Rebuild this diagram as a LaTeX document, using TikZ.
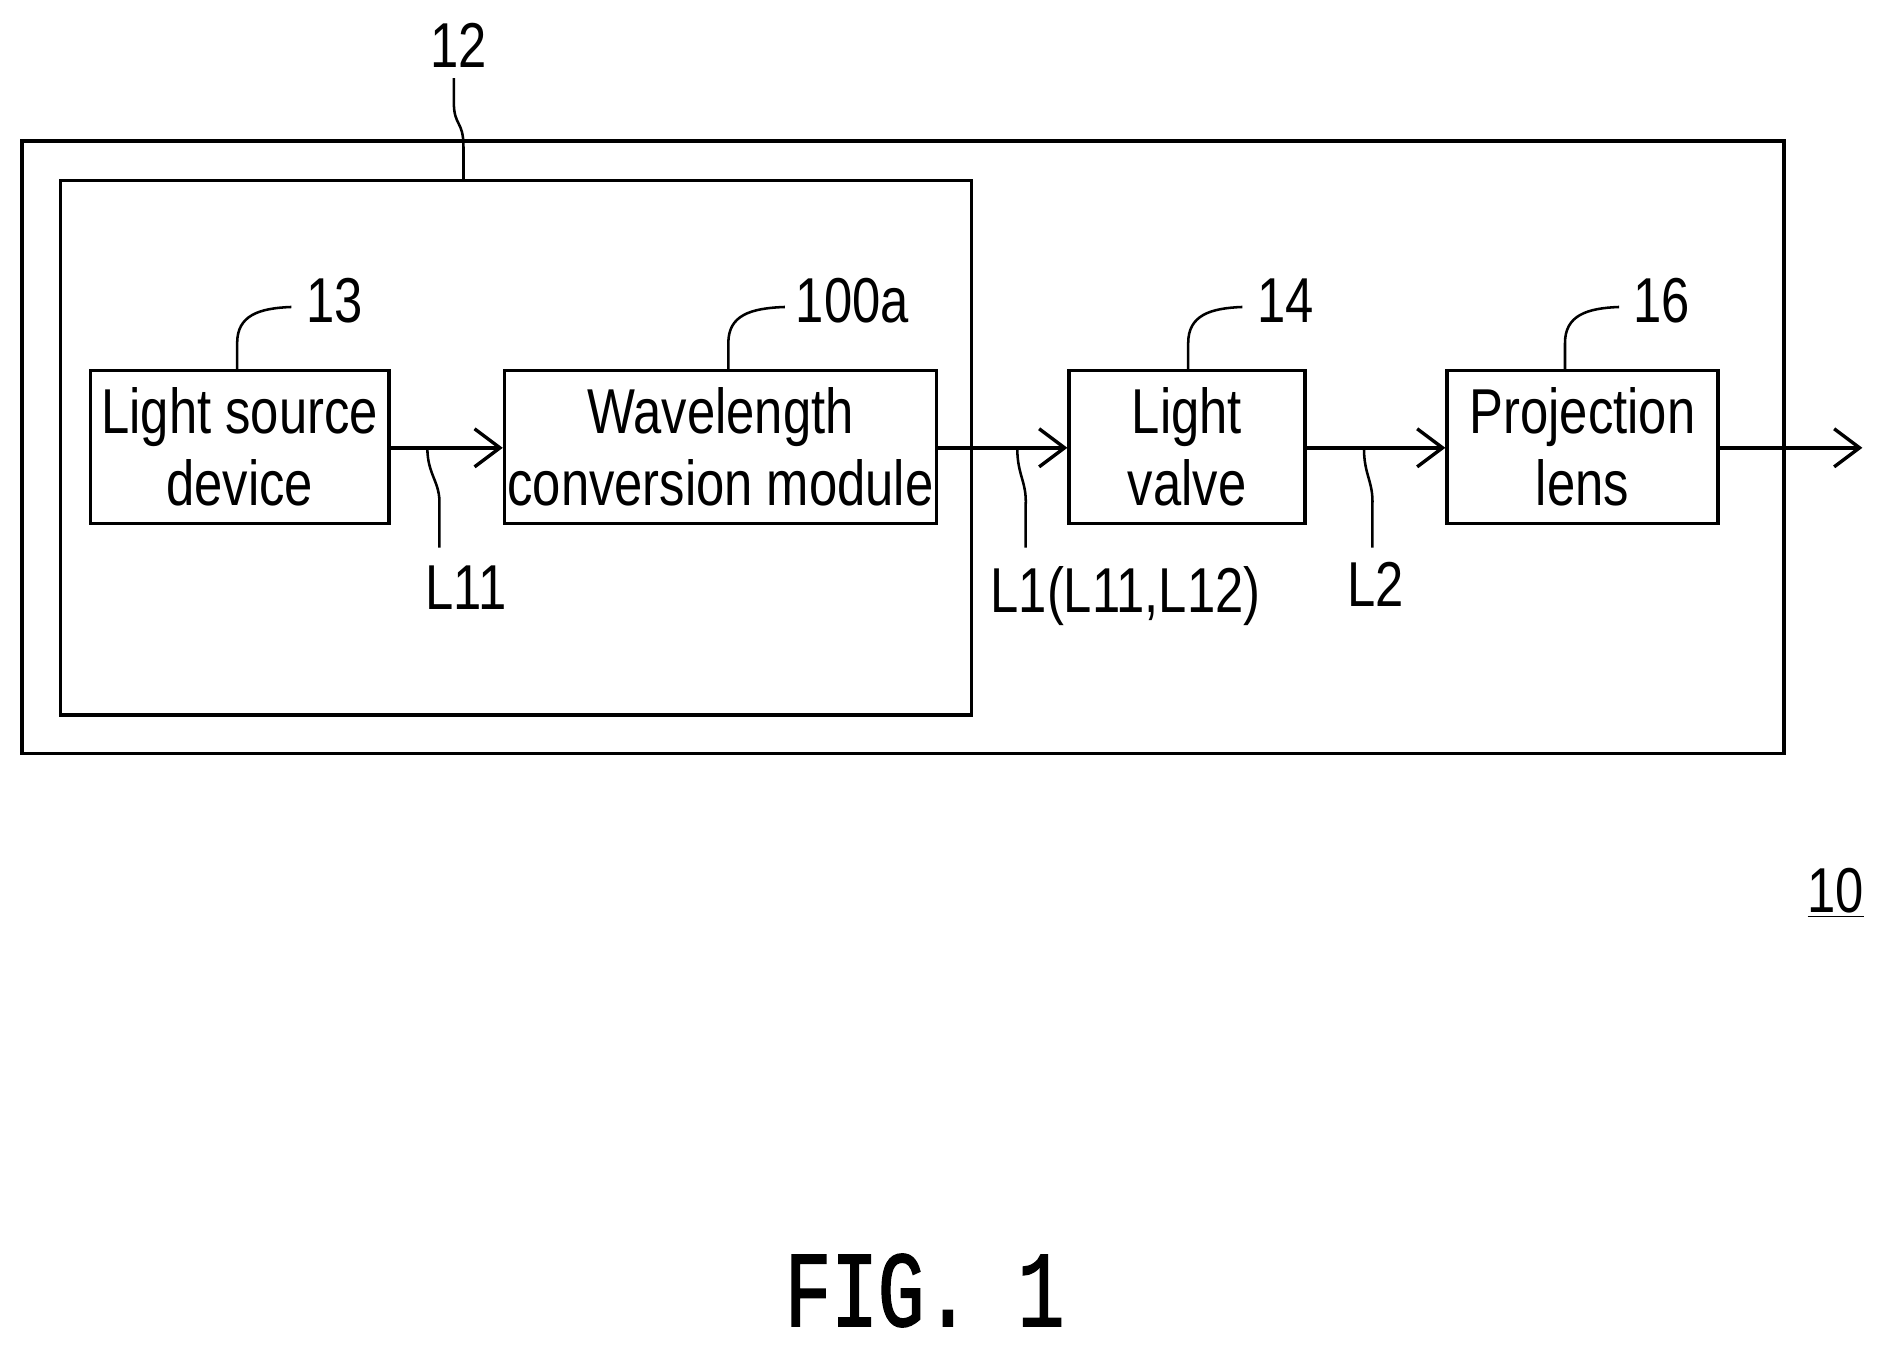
\documentclass[tikz,border=0pt]{standalone}
\usepackage{fontspec}
\setmainfont{Liberation Sans}[FakeStretch=0.8]
\newfontfamily\figfont{Liberation Mono}[FakeStretch=0.72,FakeBold=1.5]
\usetikzlibrary{arrows.meta}
\begin{document}
\begin{tikzpicture}[x=0.02cm,y=-0.02cm,
  every node/.style={font=\fontsize{30}{34}\selectfont},
  box/.style={draw,line width=1.6pt,inner sep=0pt,align=center},
  ar/.style={line width=1.6pt,-{Straight Barb[length=12pt,width=18pt,line width=1.6pt]}},
  lead/.style={line width=1.2pt}]
\useasboundingbox (0,0) rectangle (1560,1121);
\node[box,minimum width=29.28cm,minimum height=10.18cm] (outer) at (750,371.5) {};
\node[box,minimum width=15.14cm,minimum height=8.88cm] (inner) at (428.5,372) {};
\node[box,minimum width=4.96cm,minimum height=2.54cm] (ls) at (199,371.5) {Light source\\device};
\node[box,minimum width=7.18cm,minimum height=2.54cm] (wc) at (598.5,371.5) {Wavelength\\conversion module};
\node[box,minimum width=3.92cm,minimum height=2.54cm] (lv) at (986,371.5) {Light\\valve};
\node[box,minimum width=4.5cm,minimum height=2.54cm] (pl) at (1314.5,371.5) {Projection\\lens};
\coordinate (out) at (1547,372);
\draw[ar] (ls.east|-0,372) -- (wc.west|-0,372);
\draw[ar] (wc.east|-0,372) -- (lv.west|-0,372);
\draw[ar] (lv.east|-0,372) -- (pl.west|-0,372);
\draw[ar] (pl.east|-0,372) -- (out);
% labels
\node (t12) at (381,38) {12};
\node (t13) at (278,250) {13};
\node (t100) at (708,250) {100a};
\node (t14) at (1068,250) {14};
\node (t16) at (1380,250) {16};
\node (tL11) at (387,488) {L11};
\node (tL1) at (935,495) {L1(L11,L12)};
\node (tL2) at (1143,485) {L2};
\node (t10) at (1525,742) {\underline{10}};
\node[font=\figfont\fontsize{51}{55}\selectfont] (fig) at (768,1072) {FIG. 1};
% leaders
\draw[lead] (385,150) -- (385,122) .. controls (385,100) and (377,105) .. (377,85) -- (377,65);
\draw[lead] (197,308) -- (197,285) .. controls (197,262) and (215,256) .. (242,255);
\draw[lead] (605,308) -- (605,285) .. controls (605,262) and (623,256) .. (652,255);
\draw[lead] (987,308) -- (987,285) .. controls (987,262) and (1005,256) .. (1032,255);
\draw[lead] (1300,308) -- (1300,285) .. controls (1300,262) and (1318,256) .. (1345,255);
\draw[lead] (355,372) .. controls (355,395) and (366,400) .. (365,420) -- (365,455);
\draw[lead] (845,372) .. controls (845,395) and (853,400) .. (852,420) -- (852,455);
\draw[lead] (1133,372) .. controls (1133,395) and (1141,400) .. (1140,420) -- (1140,455);
\end{tikzpicture}
\end{document}
